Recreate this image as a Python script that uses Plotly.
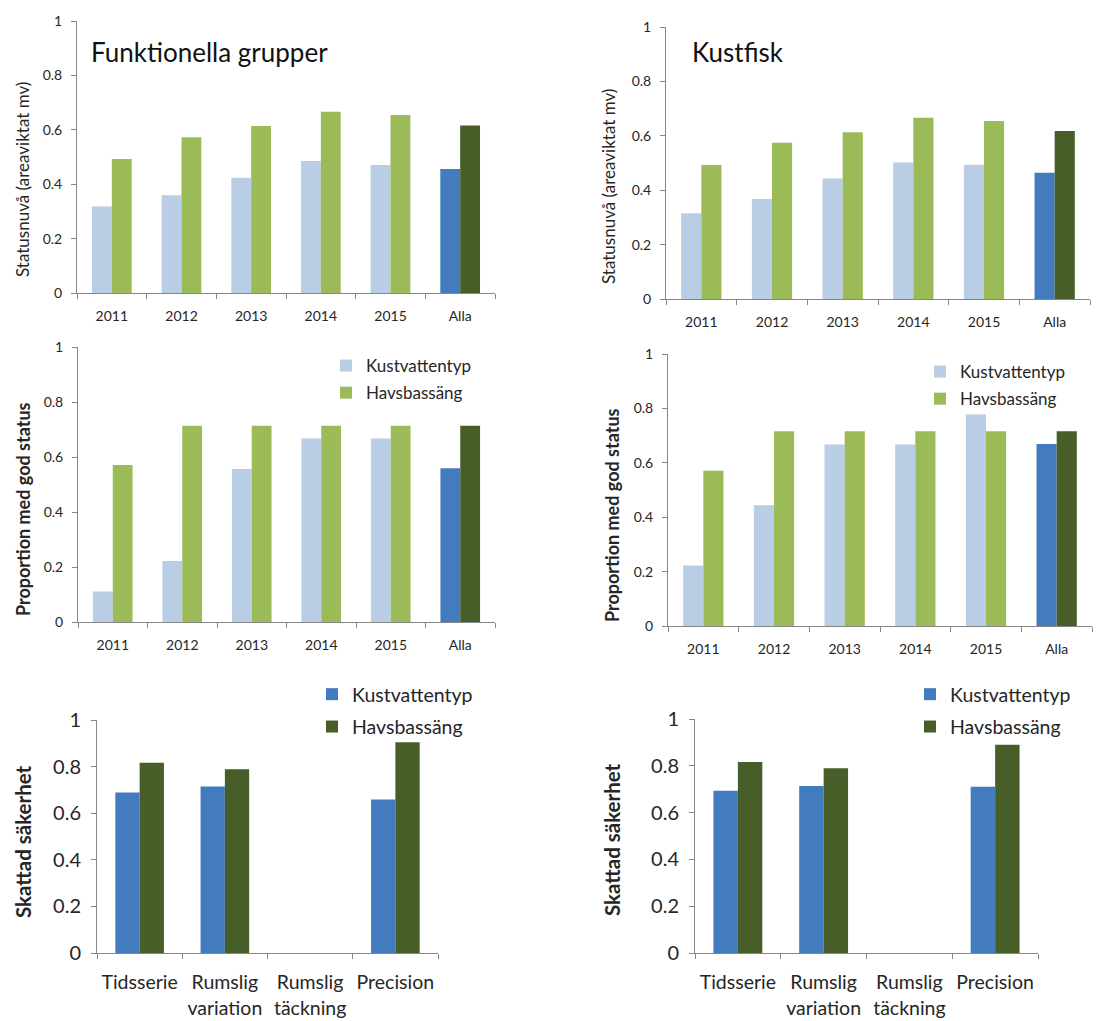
import plotly.graph_objects as go

# ---------------- data ----------------
years = ["2011", "2012", "2013", "2014", "2015", "Alla"]

fg_status_kust = [0.318, 0.359, 0.424, 0.485, 0.471, 0.456]
fg_status_hav = [0.493, 0.573, 0.614, 0.666, 0.654, 0.616]
kf_status_kust = [0.315, 0.368, 0.443, 0.502, 0.494, 0.464]
kf_status_hav = [0.493, 0.574, 0.613, 0.666, 0.654, 0.618]

fg_prop_kust = [0.111, 0.222, 0.556, 0.667, 0.667, 0.559]
fg_prop_hav = [0.571, 0.714, 0.714, 0.714, 0.714, 0.714]
kf_prop_kust = [0.222, 0.444, 0.667, 0.667, 0.778, 0.669]
kf_prop_hav = [0.571, 0.716, 0.716, 0.716, 0.716, 0.716]

criteria = ["Tidsserie", "Rumslig<br>variation", "Rumslig<br>täckning", "Precision"]
fg_cert_kust = [0.689, 0.715, None, 0.659]
fg_cert_hav = [0.817, 0.789, None, 0.904]
kf_cert_kust = [0.693, 0.714, None, 0.710]
kf_cert_hav = [0.816, 0.789, None, 0.890]

series_names = ["Kustvattentyp", "Havsbassäng"]
y_ticks = [0, 0.2, 0.4, 0.6, 0.8, 1]
y_ticktext = ["0", "0.2", "0.4", "0.6", "0.8", "1"]

# ---------------- styling ----------------
W, H = 1113, 1021
OFF = 8  # page body margin
FONT = "Lato"
TXT = "#262626"
AXC = "#868686"
LIGHT_BLUE = "#B9CDE5"
GREEN = "#9BBB59"
BLUE = "#427BBE"
DARK_GREEN = "#485E29"


def px_x(p):
    return (p - OFF) / W


def px_y(p):
    return 1 - (p - OFF) / H


fig = go.Figure()

# panel geometry in pixels: (left, right, top(value 1), bottom(value 0))
panels = [
    (77, 495, 21, 293),
    (666, 1090, 27, 299),
    (78, 495, 347, 622),
    (668, 1092, 354, 626),
    (97, 438, 720, 953),
    (695, 1038, 719, 953),
]


def year_colors(n, base, alla):
    return [base] * (n - 1) + [alla]


panel_data = [
    (years, fg_status_kust, fg_status_hav, "year", None),
    (years, kf_status_kust, kf_status_hav, "year", None),
    (years, fg_prop_kust, fg_prop_hav, "year", "legend2"),
    (years, kf_prop_kust, kf_prop_hav, "year", "legend3"),
    (criteria, fg_cert_kust, fg_cert_hav, "crit", "legend4"),
    (criteria, kf_cert_kust, kf_cert_hav, "crit", "legend5"),
]

layout_axes = {}
for i, ((cats, kust, hav, kind, leg), (l, r, t, b)) in enumerate(zip(panel_data, panels)):
    n = i + 1
    xa = "x" if n == 1 else f"x{n}"
    ya = "y" if n == 1 else f"y{n}"
    if kind == "year":
        c1 = year_colors(len(cats), LIGHT_BLUE, BLUE)
        c2 = year_colors(len(cats), GREEN, DARK_GREEN)
        fsize = 14
        yfsize = 14
        standoff_x = 10
    else:
        c1 = BLUE
        c2 = DARK_GREEN
        fsize = 19.5
        yfsize = 20
        standoff_x = 12
    for j, (vals, cols) in enumerate([(kust, c1), (hav, c2)]):
        tr = dict(
            x=cats, y=vals, name=series_names[j], xaxis=xa, yaxis=ya,
            marker=dict(color=cols, line=dict(width=0)),
            showlegend=leg is not None, offsetgroup=str(j),
            legendgroup=f"g{j}",
        )
        if leg is not None:
            tr["legend"] = leg
        fig.add_trace(go.Bar(**tr))

    xkey = "xaxis" if n == 1 else f"xaxis{n}"
    ykey = "yaxis" if n == 1 else f"yaxis{n}"
    layout_axes[xkey] = dict(
        domain=[px_x(l), px_x(r)], anchor=ya, type="category", automargin=False,
        showline=True, linecolor=AXC, linewidth=1, tickangle=0,
        ticks="outside", tickson="boundaries", ticklen=5, tickcolor=AXC,
        tickfont=dict(family=FONT, size=fsize, color=TXT),
        ticklabelstandoff=standoff_x,
        showgrid=False, zeroline=False, fixedrange=True,
    )
    layout_axes[ykey] = dict(
        domain=[px_y(b), px_y(t)], anchor=xa, range=[0, 1], automargin=False,
        tickvals=y_ticks, ticktext=y_ticktext,
        showline=True, linecolor=AXC, linewidth=1,
        ticks="outside", ticklen=5, tickcolor=AXC,
        tickfont=dict(family=FONT, size=yfsize, color=TXT),
        ticklabelstandoff=6,
        showgrid=False, zeroline=False, fixedrange=True,
    )

fig.update_layout(**layout_axes)

annotations = [
    dict(text="Funktionella grupper", x=px_x(89), y=px_y(52), xanchor="left", yanchor="middle",
         font=dict(family=FONT, size=26, color="#111")),
    dict(text="Kustfisk", x=px_x(690), y=px_y(52), xanchor="left", yanchor="middle",
         font=dict(family=FONT, size=26, color="#111")),
    dict(text="Statusnuvå (areaviktat mv)", x=px_x(22), y=px_y(180), textangle=-90,
         xanchor="center", yanchor="middle", font=dict(family=FONT, size=17, color=TXT)),
    dict(text="Statusnuvå (areaviktat mv)", x=px_x(608), y=px_y(187), textangle=-90,
         xanchor="center", yanchor="middle", font=dict(family=FONT, size=17, color=TXT)),
    dict(text="<b>Proportion med god status</b>", x=px_x(23), y=px_y(509), textangle=-90,
         xanchor="center", yanchor="middle", font=dict(family=FONT, size=18, color=TXT)),
    dict(text="<b>Proportion med god status</b>", x=px_x(612), y=px_y(515), textangle=-90,
         xanchor="center", yanchor="middle", font=dict(family=FONT, size=18, color=TXT)),
    dict(text="<b>Skattad säkerhet</b>", x=px_x(23), y=px_y(842), textangle=-90,
         xanchor="center", yanchor="middle", font=dict(family=FONT, size=20.5, color=TXT)),
    dict(text="<b>Skattad säkerhet</b>", x=px_x(612), y=px_y(840), textangle=-90,
         xanchor="center", yanchor="middle", font=dict(family=FONT, size=20.5, color=TXT)),
]
for a in annotations:
    a.update(xref="paper", yref="paper", showarrow=False)


def legend_at(left_text_px, top_px, size, gap):
    return dict(
        x=px_x(left_text_px - 40), y=px_y(top_px), xref="paper", yref="paper",
        xanchor="left", yanchor="top", bgcolor="rgba(0,0,0,0)",
        font=dict(family=FONT, size=size, color=TXT),
        traceorder="grouped", tracegroupgap=gap,
    )


fig.update_layout(
    width=W, height=H,
    margin=dict(l=0, r=0, t=0, b=0, autoexpand=False),
    paper_bgcolor="white", plot_bgcolor="white",
    barmode="group", bargap=0.43, bargroupgap=0,
    annotations=annotations,
    showlegend=True,
    legend=dict(visible=False),
    legend2=legend_at(366, 348, 17, 2),
    legend3=legend_at(960, 354, 17, 2),
    legend4=legend_at(352, 675, 19.5, 4),
    legend5=legend_at(950, 675, 19.5, 4),
)

fig.write_html("out.html")
